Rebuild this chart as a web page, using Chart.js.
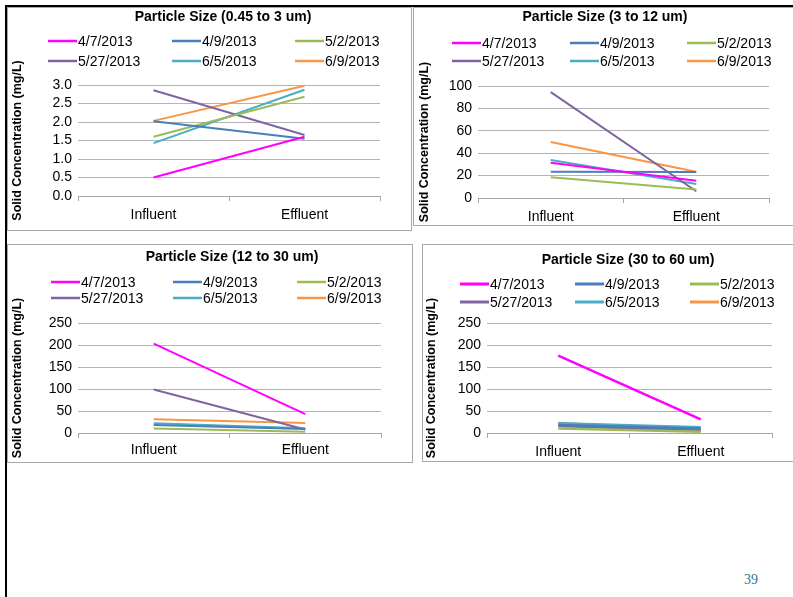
<!DOCTYPE html>
<html>
<head>
<meta charset="utf-8">
<script src="https://cdn.jsdelivr.net/npm/chart.js@4"></script>
<style>
  body { margin: 0; width: 793px; height: 597px; position: relative; background: #fff; overflow: hidden;
         font-family: "Liberation Sans", Arial, sans-serif; }
  .rule { position: absolute; background: #000; }
  .box { position: absolute; border: 1px solid #a8a8a8; box-sizing: border-box; background: #fff; }
  canvas { position: absolute; }
  #page { position: absolute; left: 744px; top: 572px; font: 14px "Liberation Serif", "DejaVu Serif", serif; color: #2b7894; }
</style>
</head>
<body>
<div class="rule" style="left:5px;top:5px;width:788px;height:2px"></div>
<div class="rule" style="left:5px;top:5px;width:2px;height:592px"></div>

<div class="box" style="left:7px;top:7px;width:405px;height:224px"></div>
<div class="box" style="left:413px;top:7px;width:382px;height:219px"></div>
<div class="box" style="left:7px;top:244px;width:406px;height:219px"></div>
<div class="box" style="left:422px;top:244px;width:373px;height:218px"></div>

<canvas id="c1"></canvas>
<canvas id="c2"></canvas>
<canvas id="c3"></canvas>
<canvas id="c4"></canvas>
<div id="page">39</div>

<script>
// ---- data ----
const categories = ['Influent', 'Effluent'];
const sampleDates = ['4/7/2013', '4/9/2013', '5/2/2013', '5/27/2013', '6/5/2013', '6/9/2013'];

// [influent, effluent] per sample date, mg/L
const size045to3 = [[0.5, 1.6], [2.02, 1.55], [1.6, 2.68], [2.86, 1.65], [1.43, 2.87], [2.03, 2.98]];
const size3to12  = [[31.5, 15.5], [23.5, 23.2], [18.5, 7.5], [94.5, 6], [34, 12.5], [50, 23.5]];
const size12to30 = [[203, 43], [18, 9], [10, 3], [99, 8], [22, 11], [31, 23]];
const size30to60 = [[176, 31], [18, 10], [10, 3], [16, 5], [22, 13], [23, 7]];

const ticks045to3 = [0, 0.5, 1.0, 1.5, 2.0, 2.5, 3.0];
const ticks3to12  = [0, 20, 40, 60, 80, 100];
const ticks12to30 = [0, 50, 100, 150, 200, 250];
const ticks30to60 = [0, 50, 100, 150, 200, 250];

const titles = ['Particle Size (0.45 to 3 um)', 'Particle Size (3 to 12 um)',
                'Particle Size (12 to 30 um)', 'Particle Size (30 to 60 um)'];
const yAxisTitle = 'Solid Concentration (mg/L)';

// ---- styling ----
const seriesColors = ['#ff00ff', '#4a7ebb', '#9bbb59', '#8064a2', '#4bacc6', '#f79646'];
const FONT = '"Liberation Sans", Arial, sans-serif';

// page-space geometry of each panel
const panels = [
  { id: 'c1', box: [7, 7, 405, 224], area: [78, 85, 380, 196], titleXY: [223, 17],
    rows: [41, 61], cols: [48, 172, 295], yTitleX: 18, labelPad: 6, lw: 2 },
  { id: 'c2', box: [413, 7, 380, 219], area: [478, 86, 769, 198], titleXY: [605, 17],
    rows: [43, 61], cols: [452, 570, 687], yTitleX: 425, labelPad: 6, lw: 2 },
  { id: 'c3', box: [7, 244, 406, 219], area: [78, 323, 381, 433], titleXY: [232, 257],
    rows: [282, 298], cols: [51, 173, 297], yTitleX: 18, labelPad: 4, lw: 2 },
  { id: 'c4', box: [422, 244, 371, 218], area: [487, 323, 772, 433], titleXY: [628, 260],
    rows: [284, 302], cols: [460, 575, 690], yTitleX: 432, labelPad: 6, lw: 2.5 }
];

const panelData = [size045to3, size3to12, size12to30, size30to60];
const panelTicks = [ticks045to3, ticks3to12, ticks12to30, ticks30to60];

// draws the panel title, the three-column legend and the rotated axis title
const panelDecor = {
  id: 'panelDecor',
  afterDraw(chart, args, opts) {
    const ctx = chart.ctx;
    const ox = opts.box[0], oy = opts.box[1];
    ctx.save();
    ctx.fillStyle = '#000';
    ctx.font = 'bold 14px ' + FONT;
    ctx.textAlign = 'center';
    ctx.textBaseline = 'middle';
    ctx.fillText(opts.title, opts.titleXY[0] - ox, opts.titleXY[1] - oy);

    ctx.font = '14px ' + FONT;
    ctx.textAlign = 'left';
    chart.data.datasets.forEach((ds, i) => {
      const row = Math.floor(i / 3), col = i % 3;
      const x = opts.cols[col] - ox, y = opts.rows[row] - oy;
      ctx.strokeStyle = ds.borderColor;
      ctx.lineWidth = opts.lw + 0.5;
      ctx.beginPath();
      ctx.moveTo(x, y);
      ctx.lineTo(x + 29, y);
      ctx.stroke();
      ctx.fillStyle = '#000';
      ctx.fillText(ds.label, x + 30, y + 1);
    });

    const a = chart.chartArea;
    ctx.translate(opts.yTitleX - ox, (a.top + a.bottom) / 2);
    ctx.rotate(-Math.PI / 2);
    ctx.font = 'bold 12.5px ' + FONT;
    ctx.textAlign = 'center';
    ctx.fillText(yAxisTitle, 0, 0);
    ctx.restore();
  }
};

panels.forEach((p, k) => {
  const [bx, by, bw, bh] = p.box;
  const [al, at, ar, ab] = p.area;
  const cv = document.getElementById(p.id);
  cv.style.left = bx + 'px';
  cv.style.top = by + 'px';
  cv.width = bw;
  cv.height = bh;

  const values = panelData[k];
  const tk = panelTicks[k];
  const step = tk[1] - tk[0];
  const decimals = step < 1 ? 1 : 0;

  new Chart(cv, {
    type: 'line',
    data: {
      labels: categories,
      datasets: sampleDates.map((d, i) => ({
        label: d,
        data: values[i],
        borderColor: seriesColors[i],
        backgroundColor: seriesColors[i],
        borderWidth: p.lw,
        pointRadius: 0,
        tension: 0,
        fill: false
      }))
    },
    options: {
      responsive: false,
      animation: false,
      devicePixelRatio: 1,
      layout: { padding: { top: at - by, right: bx + bw - ar, bottom: 0, left: 0 } },
      plugins: {
        legend: { display: false },
        title: { display: false },
        tooltip: { enabled: false },
        panelDecor: { box: p.box, title: titles[k], titleXY: p.titleXY, rows: p.rows,
                      cols: p.cols, yTitleX: p.yTitleX, lw: p.lw }
      },
      scales: {
        x: {
          offset: true,
          grid: { offset: true, drawOnChartArea: false, drawTicks: true, tickLength: 5, color: '#a6a6a6' },
          border: { display: true, color: '#a6a6a6' },
          ticks: { color: '#000', font: { family: FONT, size: 14 }, padding: p.labelPad, maxRotation: 0 },
          afterFit(s) { s.height = by + bh - ab; }
        },
        y: {
          min: tk[0],
          max: tk[tk.length - 1],
          grid: { color: '#b4b4b4', drawTicks: false },
          border: { display: false },
          ticks: {
            stepSize: step,
            autoSkip: false,
            color: '#000',
            font: { family: FONT, size: 14 },
            padding: 6,
            callback: v => Number(v).toFixed(decimals)
          },
          afterBuildTicks(s) { s.ticks = tk.map(v => ({ value: v })); },
          afterFit(s) { s.width = al - bx; }
        }
      }
    },
    plugins: [panelDecor]
  });
});
</script>
</body>
</html>
